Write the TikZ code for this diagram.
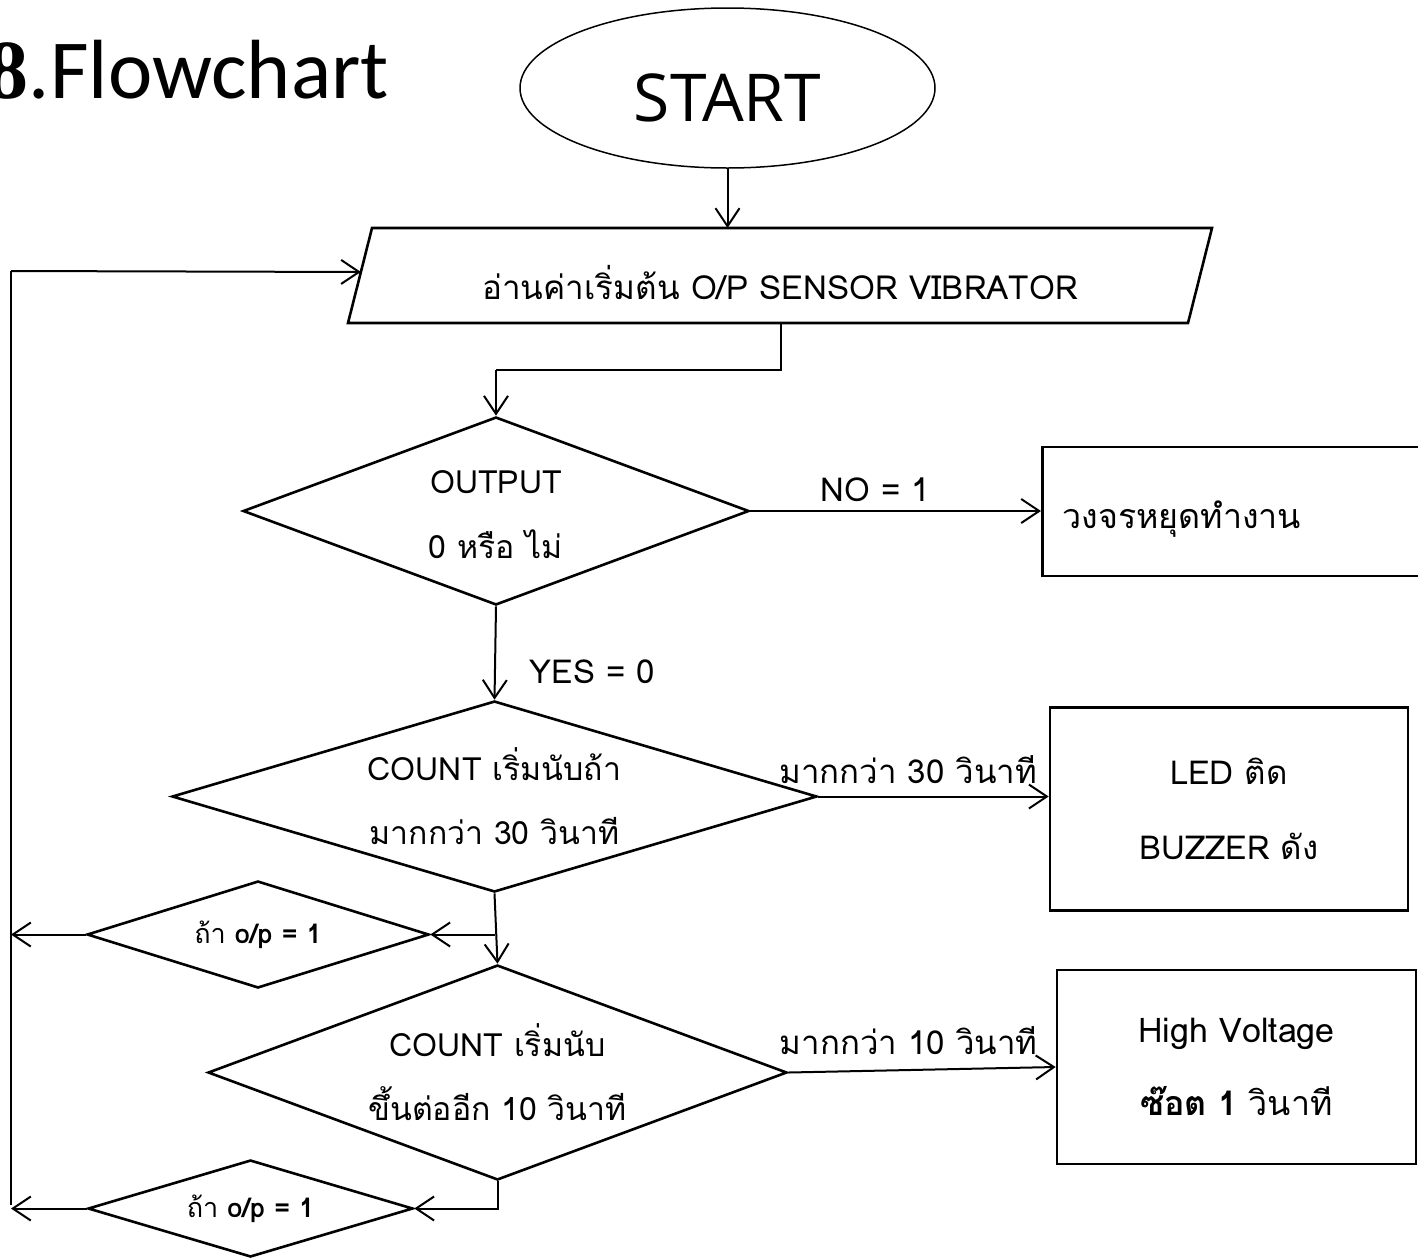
\documentclass[tikz,border=0pt]{standalone}
\usepackage{fontspec}
\usetikzlibrary{shapes.geometric,arrows.meta,calc}
\newfontfamily\thaifont[Script=Thai]{Loma}
\newfontfamily\opensans{Open Sans}
\newfontfamily\carlito{Carlito}
\newfontfamily\serifb{Liberation Serif}
\tikzset{
  x=0.5pt, y=-0.5pt,
  shp/.style={draw=black, line width=1.3pt},
  conn/.style={draw=black, line width=1pt, -{Straight Barb[length=9pt,width=12pt,line width=1pt]}},
  rail/.style={draw=black, line width=0.7pt},
  txt/.style={font=\thaifont\fontsize{16}{32}\selectfont, text=black, inner sep=0pt, align=center},
  small/.style={font=\thaifont\fontsize{13.5}{16}\selectfont, text=black, inner sep=0pt},
  lbl/.style={font=\thaifont\fontsize{16.5}{20}\selectfont, text=black, inner sep=0pt},
}
\begin{document}
\begin{tikzpicture}
\useasboundingbox (0,0) rectangle (1418,1259);
% title
\node[anchor=base west, inner sep=0pt, font=\carlito\fontsize{42}{50}\selectfont] (title) at (50,98) {Flowchart};
\node[anchor=base east, inner sep=0pt, font=\carlito\fontsize{42}{50}\selectfont] (num) at (title.base west) {{\serifb\bfseries 8}.};
% start
\node[draw=black, line width=0.75pt, ellipse, minimum width=207.5pt, minimum height=80pt, inner sep=0pt,
  label={[font=\opensans\fontsize{33}{40}\selectfont, yshift=-5pt]center:START}] (start) at (727.5,88) {};
% read (parallelogram)
\coordinate (p1) at (372,228);
\coordinate (p2) at (1212,228);
\coordinate (p3) at (1188,323);
\coordinate (p4) at (348,323);
\draw[shp] (p1) -- (p2) -- (p3) -- (p4) -- cycle;
\node[txt, font=\thaifont\fontsize{16.6}{32}\selectfont] (read) at (780,283) {อ่านค่าเริ่มต้น O/P SENSOR VIBRATOR};
\coordinate (pb) at (781,323);
% decisions
\node[shp, diamond, aspect=2.69, minimum width=253pt, minimum height=94pt, txt, font=\thaifont\fontsize{16}{32.5}\selectfont] (d1) at (496,511) {\rule{0pt}{15.5pt}OUTPUT\\0 หรือ ไม่};
\node[shp, diamond, aspect=3.38, minimum width=322.5pt, minimum height=95.5pt, txt] (d2) at (494.5,796.5) {COUNT เริ่มนับถ้า\\มากกว่า 30 วินาที};
\node[shp, diamond, aspect=2.69, minimum width=289.5pt, minimum height=107.5pt, txt] (d3) at (497.5,1072.5) {COUNT เริ่มนับ\\ขึ้นต่ออีก 10 วินาที};
\node[shp, diamond, aspect=3.2, minimum width=171pt, minimum height=53.5pt, small] (sA) at (258,934.5) {ถ้า \textbf{o/p = 1}};
\node[shp, diamond, aspect=3.35, minimum width=162.5pt, minimum height=48.5pt, small] (sB) at (250.5,1208.5) {ถ้า \textbf{o/p = 1}};
% boxes
\node[shp, rectangle, anchor=west, minimum width=205pt, minimum height=64.5pt, inner sep=0pt,
  label={[txt, font=\thaifont\fontsize{17}{32}\selectfont, anchor=west, label distance=0pt, xshift=10.5pt, yshift=-4pt]west:วงจรหยุดทำงาน}] (stop) at (1041,511.5) {};
\node[shp, rectangle, minimum width=179pt, minimum height=101.5pt, txt, font=\thaifont\fontsize{16.5}{37.5}\selectfont] (led) at (1229,809) {LED ติด\\BUZZER ดัง};
\node[shp, rectangle, minimum width=179.5pt, minimum height=97pt, txt, font=\thaifont\fontsize{17}{36.5}\selectfont] (hv) at (1236.5,1067) {High Voltage\\\textbf{ซ๊อต 1} วินาที};
% rail
\coordinate (railtop) at (11,271);
\coordinate (railbot) at (11,1205);
\coordinate (j1) at (496,370);
% connectors
\draw[conn] (start.south) -- (start.south |- p1);
\draw[line width=1pt] (pb) |- (j1);
\draw[conn] (j1) -- (d1.north);
\draw[conn] (d1.east) -- node[lbl, pos=0.43, above=4pt] {NO = 1} (d1.east -| stop.west);
\draw[conn] (d1.south) -- node[lbl, pos=0.7, right=17pt] {YES = 0} (d2.north);
\draw[conn] (d2.east) -- node[lbl, pos=0.39, above=6pt] {มากกว่า 30 วินาที} (d2.east -| led.west);
\draw[conn] (d2.south) -- (d3.north);
\draw[conn] (d2.south |- sA.east) -- (sA.east);
\draw[conn] (sA.west) -- (sA.west -| railtop);
\draw[conn] (d3.east) -- node[lbl, pos=0.45, above=7pt] {มากกว่า 10 วินาที} (hv.west);
\draw[conn] (d3.south) |- (sB.east);
\draw[conn] (sB.west) -- (sB.west -| railtop);
\draw[rail] (railtop) -- (railbot);
\draw[conn] (railtop) -- ($(p1)!0.463!(p4)$);
\end{tikzpicture}
\end{document}
